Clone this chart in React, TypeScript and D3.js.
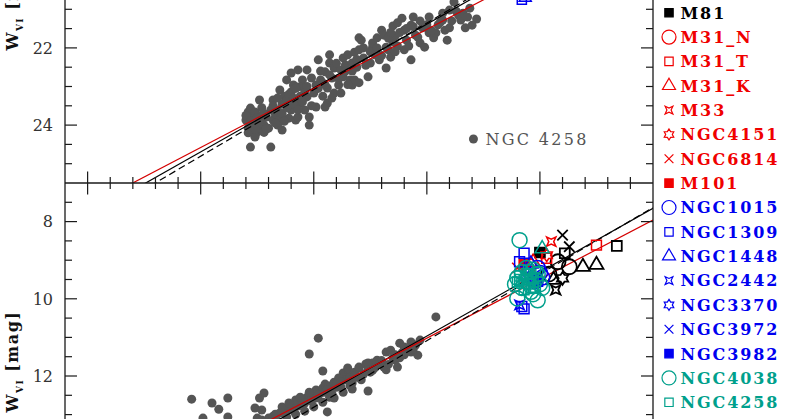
import React from "react";
import * as d3 from "d3";

const WIDTH = 800;
const HEIGHT = 419;

// ---------- axes ----------
const xDomain: [number, number] = [-0.1, 2.5]; // log P
const topDomain: [number, number] = [16, 25.5]; // W_VI NGC 4258
const bottomDomain: [number, number] = [7, 16.25]; // W_VI calibrators
const yTickLabelsTop = [18, 20, 22, 24];
const yTickLabelsBottom = [8, 10, 12, 14, 16];

// ---------- PL fits: W = a + b logP ----------
const fitNames = ["solid", "red", "dashed"];
const fitSlopes = [-3.31, -3.06, -3.45];
const fitTopIntercepts = [26.35, 26.11, 26.53];
const fitBottomIntercepts = [15.93, 15.61, 16.26];

// ---------- NGC 4258 Cepheids (top panel) [logP, W] ----------
const ngc4258Cepheids: [number, number][] = [
  [0.71, 23.66], [0.71, 23.82], [0.73, 23.71], [0.72, 23.97], [0.74, 23.87], [0.71, 24.08],
  [0.73, 24.13], [0.75, 24.02], [0.76, 23.76], [0.77, 23.92], [0.75, 24.18], [0.72, 23.56],
  [0.70, 23.87], [0.74, 23.66], [0.74, 24.28], [0.76, 24.08], [0.72, 24.57], [0.81, 24.57],
  [0.76, 23.35], [0.78, 24.19], [0.74, 24.31], [0.80, 24.08],
  [0.79, 23.79], [0.81, 23.61], [0.82, 23.35], [0.82, 23.87], [0.83, 23.71], [0.84, 23.61],
  [0.85, 23.09], [0.85, 23.87], [0.86, 24.13], [0.86, 23.45], [0.87, 23.25], [0.88, 22.83],
  [0.88, 23.35], [0.90, 22.65], [0.90, 23.61], [0.90, 23.14], [0.91, 22.96], [0.92, 23.87],
  [0.93, 23.01], [0.93, 23.79], [0.93, 22.57], [0.94, 23.43], [0.94, 23.25], [0.95, 22.83],
  [0.95, 23.01], [0.96, 23.61], [0.78, 24.0], [0.84, 24.0], [0.89, 23.82], [0.91, 23.45],
  [0.97, 23.27], [0.97, 22.57], [0.98, 23.79], [0.98, 24.0], [0.99, 22.78], [1.0, 23.17],
  [1.01, 22.96], [1.01, 23.53], [1.02, 22.31], [1.03, 22.83], [1.04, 23.25], [1.04, 22.91],
  [1.05, 22.62], [1.06, 23.43], [1.06, 23.04], [1.07, 22.18], [1.07, 22.39], [1.08, 22.78],
  [1.09, 23.17], [1.09, 22.52], [1.11, 22.96], [1.12, 22.57], [1.12, 23.17], [1.13, 22.26],
  [1.13, 22.75], [1.14, 22.44], [1.15, 22.18], [1.16, 22.83], [1.05, 23.53],
  [1.17, 22.96], [1.17, 22.39], [1.18, 22.11], [1.18, 22.83], [1.19, 22.5], [1.2, 21.74],
  [1.2, 22.05], [1.21, 21.8], [1.22, 22.26], [1.24, 22.75], [1.25, 22.39], [1.26, 21.98],
  [1.26, 21.87], [1.27, 22.18], [1.28, 21.74], [1.29, 22.31], [1.3, 21.54], [1.31, 21.67],
  [1.32, 21.98], [1.32, 22.52], [1.33, 22.05], [1.34, 22.24], [1.35, 21.43], [1.35, 21.85],
  [1.36, 21.69], [1.37, 21.35], [1.37, 21.95],
  [1.39, 21.23], [1.4, 21.54], [1.4, 22.05], [1.41, 21.8], [1.43, 21.41], [1.43, 22.31],
  [1.44, 21.2], [1.45, 21.67], [1.46, 21.72], [1.47, 21.87], [1.48, 21.48], [1.49, 21.98],
  [1.51, 21.61], [1.51, 21.2], [1.53, 21.74], [1.54, 21.61], [1.56, 21.33], [1.57, 21.28],
  [1.58, 21.54], [1.59, 21.8], [1.6, 21.02], [1.6, 21.48], [1.62, 20.81], [1.64, 21.15],
  [1.65, 21.28], [1.66, 21.1], [1.67, 21.48], [1.69, 20.97], [1.72, 21.25], [1.7, 21.41],
  [1.7, 20.6], [1.75, 20.5], [1.66, 20.65],
  [0.70, 23.75], [0.72, 23.9], [0.73, 24.0], [0.75, 23.8], [0.76, 23.95], [0.78, 23.7],
  [0.77, 23.55], [0.79, 24.1], [0.71, 24.2], [0.74, 24.1],
  [0.82, 23.5], [0.84, 23.3], [0.86, 23.7], [0.88, 23.55], [0.89, 23.2], [0.91, 23.3],
  [0.92, 23.05], [0.93, 23.6], [0.95, 23.4], [0.96, 23.15], [0.97, 23.0], [0.99, 23.5],
  [0.83, 23.95], [0.87, 23.9],
  [1.02, 23.05], [1.03, 22.6], [1.05, 22.95], [1.07, 22.7], [1.08, 23.3], [1.1, 22.4],
  [1.11, 22.8], [1.14, 22.6], [1.15, 22.95], [1.17, 22.6], [1.19, 22.3], [1.2, 22.9],
  [1.22, 22.0], [1.23, 22.45], [1.25, 22.1], [1.28, 22.0], [1.3, 22.2], [1.33, 21.75],
  [1.34, 21.6], [1.36, 22.1], [1.38, 21.6], [1.41, 21.5], [1.42, 21.95], [1.44, 21.45],
  [1.47, 21.3], [1.5, 21.4], [1.52, 21.55], [1.55, 21.4], [1.57, 21.1], [1.61, 21.3],
  [1.63, 21.05], [1.68, 21.2],
];

// ---------- calibrating Cepheids (bottom panel) [logP, W] ----------
const calibCepheids: [number, number][] = [
  [0.46, 12.6], [0.55, 12.7], [0.58, 12.86], [0.62, 12.57], [0.51, 13.09], [0.62, 13.06],
  [0.78, 12.44], [0.76, 12.57], [0.74, 12.83], [0.77, 12.88], [0.75, 13.09], [0.98, 11.43],
  [1.02, 11.02], [1.04, 11.87], [1.06, 12.93], [1.24, 12.39], [1.54, 10.47],
  [0.8, 13.09], [0.82, 13.04], [0.83, 12.99], [0.85, 12.96], [0.87, 12.91], [0.89, 12.86],
  [0.9, 12.75], [0.9, 12.83], [0.92, 12.7], [0.93, 12.78], [0.94, 12.65], [0.95, 12.73],
  [0.97, 12.55], [0.98, 12.62], [0.99, 12.49], [1.01, 12.57], [1.01, 12.36], [1.03, 12.44],
  [1.04, 12.31], [1.05, 12.42], [1.07, 12.26], [1.07, 12.55], [1.09, 12.16], [1.1, 12.29],
  [1.11, 12.1], [1.12, 12.29], [1.13, 11.92], [1.14, 12.1], [1.15, 11.84], [1.15, 11.79],
  [1.16, 12.03], [1.17, 12.18], [1.18, 11.9], [1.2, 11.79], [1.2, 11.77], [1.21, 12.1],
  [1.23, 11.69], [1.24, 11.66], [1.25, 11.9], [1.26, 11.66], [1.27, 11.79], [1.28, 11.59],
  [1.29, 11.69], [1.31, 11.77], [1.32, 11.84], [1.32, 11.38], [1.34, 11.33], [1.35, 11.53],
  [1.36, 11.59], [1.37, 11.77], [1.38, 11.15], [1.38, 11.53], [1.39, 11.4], [1.4, 11.25],
  [1.42, 11.33], [1.43, 11.38], [1.43, 11.12], [1.45, 11.2], [1.46, 11.46], [1.47, 11.07],
  [0.77, 13.14], [0.81, 13.19], [0.84, 13.17], [0.88, 13.06], [0.92, 12.99], [0.96, 12.91],
  [1.0, 12.8], [1.04, 12.68], [1.09, 12.57], [1.13, 12.42], [1.17, 12.34],
  [0.86, 12.8], [0.92, 12.62], [0.98, 12.42], [1.05, 12.21], [1.11, 12.05], [1.19, 12.03],
  [1.24, 11.84], [0.72, 13.27], [0.67, 13.4],
  [0.83, 13.1], [0.86, 12.95], [0.89, 12.7], [0.91, 12.9], [0.94, 12.55], [0.96, 12.7],
  [0.99, 12.65], [1.02, 12.5], [1.06, 12.35], [1.08, 12.45], [1.1, 12.2], [1.12, 12.15],
  [1.16, 12.25], [1.18, 12.0], [1.22, 11.95], [1.26, 11.85], [1.3, 11.6], [1.33, 11.7],
  [1.36, 11.45], [1.4, 11.45], [1.44, 11.3],
];

// ---------- ultra-long-period Cepheids, one array per host ----------
const ulpLMC: [number, number][] = [[2.08, 9.04], [2.13, 9.17], [2.04, 9.36]];
const ulpSMC: [number, number][] = [[2.11, 8.82], [2.34, 8.63]];
const ulpNGC55: [number, number][] = [[2.19, 9.17], [2.25, 9.12], [2.06, 9.51]];
const ulpNGC300: [number, number][] = [[2.07, 9.77]];
const ulpNGC6822: [number, number][] = [[2.1, 9.47]];
const ulpIC1613: [number, number][] = [[2.1, 8.35], [2.13, 8.65]];
const ulpM81: [number, number][] = [[2.0, 8.8]];
const ulpM31N: [number, number][] = [[1.95, 9.15]];
const ulpM31T: [number, number][] = [[2.25, 8.61], [2.03, 8.95]];
const ulpM31K: [number, number][] = [[1.97, 9.05]];
const ulpM33: [number, number][] = [[2.05, 8.52]];
const ulpNGC4151: [number, number][] = [[2.03, 8.87]];
const ulpNGC6814: [number, number][] = [[1.9, 9.2]];
const ulpM101: [number, number][] = [[1.93, 9.1]];
const ulpNGC1015: [number, number][] = [[1.99, 9.2], [2.0, 9.33], [2.01, 9.45], [1.98, 9.55]];
const ulpNGC1309: [number, number][] = [[1.93, 8.82], [1.91, 9.04], [1.92, 10.2], [1.93, 10.26]];
const ulpNGC1448: [number, number][] = [[1.96, 9.1]];
const ulpNGC2442: [number, number][] = [[1.91, 10.16]];
const ulpNGC3370: [number, number][] = [[1.95, 9.45]];
const ulpNGC3972: [number, number][] = [[1.97, 9.62]];
const ulpNGC3982: [number, number][] = [[1.99, 9.55]];
const ulpNGC4038: [number, number][] = [
  [1.91, 8.48], [1.9, 9.99], [1.99, 10.04], [2.01, 9.72],
  [1.9, 9.46], [1.92, 9.31], [1.94, 9.56], [1.95, 9.41], [1.96, 9.67], [1.97, 9.25],
  [1.98, 9.51], [1.99, 9.36], [1.96, 9.82], [1.92, 9.72], [1.89, 9.62], [2.0, 9.62],
  [1.94, 9.2], [1.97, 9.88],
];
const ulpNGC4258: [number, number][] = [
  [1.91, 9.41], [1.93, 9.51], [1.95, 9.62], [1.97, 9.46], [1.99, 9.31], [1.93, 9.77],
  [1.96, 9.36], [1.98, 9.72], [1.9, 9.56], [1.95, 9.25], [1.92, 9.6], [1.94, 9.35],
  [1.96, 9.5], [1.91, 9.5], [1.97, 9.7],
];
const ulpNGC4536: [number, number][] = [[2.01, 8.7]];
// ULPs seen at the top edge of the upper panel
const ulpTopNGC1309: [number, number][] = [[1.92, 20.75]];
const ulpTopNGC1448: [number, number][] = [[1.935, 20.7]];

const BLACK = "#000000";
const RED = "#f00000";
const BLUE = "#0000f0";
const TEAL = "#00a08c";

type Shape = "circle" | "square" | "triangle" | "star4" | "star6" | "cross";
interface Series {
  name: string;
  color: string;
  shape: Shape;
  filled: boolean;
  points: [number, number][];
}

const legendSeries: Series[] = [
  { name: "LMC", color: BLACK, shape: "circle", filled: false, points: ulpLMC },
  { name: "SMC", color: BLACK, shape: "square", filled: false, points: ulpSMC },
  { name: "NGC55", color: BLACK, shape: "triangle", filled: false, points: ulpNGC55 },
  { name: "NGC300", color: BLACK, shape: "star4", filled: false, points: ulpNGC300 },
  { name: "NGC6822", color: BLACK, shape: "star6", filled: false, points: ulpNGC6822 },
  { name: "IC1613", color: BLACK, shape: "cross", filled: false, points: ulpIC1613 },
  { name: "M81", color: BLACK, shape: "square", filled: true, points: ulpM81 },
  { name: "M31_N", color: RED, shape: "circle", filled: false, points: ulpM31N },
  { name: "M31_T", color: RED, shape: "square", filled: false, points: ulpM31T },
  { name: "M31_K", color: RED, shape: "triangle", filled: false, points: ulpM31K },
  { name: "M33", color: RED, shape: "star4", filled: false, points: ulpM33 },
  { name: "NGC4151", color: RED, shape: "star6", filled: false, points: ulpNGC4151 },
  { name: "NGC6814", color: RED, shape: "cross", filled: false, points: ulpNGC6814 },
  { name: "M101", color: RED, shape: "square", filled: true, points: ulpM101 },
  { name: "NGC1015", color: BLUE, shape: "circle", filled: false, points: ulpNGC1015 },
  { name: "NGC1309", color: BLUE, shape: "square", filled: false, points: ulpNGC1309 },
  { name: "NGC1448", color: BLUE, shape: "triangle", filled: false, points: ulpNGC1448 },
  { name: "NGC2442", color: BLUE, shape: "star4", filled: false, points: ulpNGC2442 },
  { name: "NGC3370", color: BLUE, shape: "star6", filled: false, points: ulpNGC3370 },
  { name: "NGC3972", color: BLUE, shape: "cross", filled: false, points: ulpNGC3972 },
  { name: "NGC3982", color: BLUE, shape: "square", filled: true, points: ulpNGC3982 },
  { name: "NGC4038", color: TEAL, shape: "circle", filled: false, points: ulpNGC4038 },
  { name: "NGC4258", color: TEAL, shape: "square", filled: false, points: ulpNGC4258 },
  { name: "NGC4536", color: TEAL, shape: "triangle", filled: false, points: ulpNGC4536 },
];

const topSeries: Series[] = [
  { name: "NGC1309", color: BLUE, shape: "square", filled: false, points: ulpTopNGC1309 },
  { name: "NGC1448", color: BLUE, shape: "triangle", filled: false, points: ulpTopNGC1448 },
];

// ---------- layout ----------
const LEFT = 65;
const RIGHT = 653;
const MID = 183;
const PX_PER_MAG = 38.6;
const TOP0 = MID - (topDomain[1] - topDomain[0]) * PX_PER_MAG;
const BOT1 = MID + (bottomDomain[1] - bottomDomain[0]) * PX_PER_MAG;

const FONT = "'DejaVu Serif', serif";

function symPath(shape: Shape, s: number): string {
  switch (shape) {
    case "circle": {
      const r = s / 2;
      return `M${r},0A${r},${r} 0 1,1 ${-r},0A${r},${r} 0 1,1 ${r},0Z`;
    }
    case "square": {
      const h = s * 0.38;
      return `M${-h},${-h}H${h}V${h}H${-h}Z`;
    }
    case "triangle": {
      const a = s / 2;
      const ht = s * 0.866;
      return `M0,${(-ht * 2) / 3}L${a},${ht / 3}L${-a},${ht / 3}Z`;
    }
    case "star4": {
      const R = s * 0.5;
      const r = R * 0.38;
      const pts: string[] = [];
      for (let i = 0; i < 8; i++) {
        const ang = (Math.PI / 4) * i - Math.PI / 4;
        const rad = i % 2 === 0 ? R : r;
        pts.push(`${(Math.cos(ang) * rad).toFixed(2)},${(Math.sin(ang) * rad).toFixed(2)}`);
      }
      return "M" + pts.join("L") + "Z";
    }
    case "star6": {
      const R = s * 0.5;
      const r = R * 0.6;
      const pts: string[] = [];
      for (let i = 0; i < 12; i++) {
        const ang = (Math.PI / 6) * i - Math.PI / 2;
        const rad = i % 2 === 0 ? R : r;
        pts.push(`${(Math.cos(ang) * rad).toFixed(2)},${(Math.sin(ang) * rad).toFixed(2)}`);
      }
      return "M" + pts.join("L") + "Z";
    }
    case "cross": {
      const d = s * 0.4;
      return `M${-d},${-d}L${d},${d}M${-d},${d}L${d},${-d}`;
    }
  }
}

function Marker({ s, x, y, size, sw }: { s: Series; x: number; y: number; size: number; sw: number }) {
  return (
    <path
      d={symPath(s.shape, size)}
      transform={`translate(${x},${y})`}
      fill={s.filled ? s.color : "none"}
      stroke={s.color}
      strokeWidth={sw}
      strokeLinejoin="miter"
    />
  );
}

export default function App() {
  const x = d3.scaleLinear().domain(xDomain).range([LEFT, RIGHT]);
  const yTop = d3.scaleLinear().domain(topDomain).range([TOP0, MID]);
  const yBot = d3.scaleLinear().domain(bottomDomain).range([MID, BOT1]);

  const xMinor = d3.range(0, 25).map((i) => Math.round((xDomain[0] + 0.1 * (i + 1)) * 10) / 10);
  const xMajor = xMinor.filter((v) => Math.abs(v * 2 - Math.round(v * 2)) < 1e-6);

  const topMinor = d3.range(topDomain[0] + 0.5, topDomain[1], 0.5);
  const botMinor = d3.range(bottomDomain[0] + 0.5, bottomDomain[1], 0.5);
  const isMajor = (v: number) => Math.abs(v / 2 - Math.round(v / 2)) < 1e-6;

  const fitLine = (yScale: d3.ScaleLinear<number, number>, a: number, b: number) =>
    d3.line<number>()
      .x((v) => x(v))
      .y((v) => yScale(a + b * v))(xDomain as number[]) || "";

  const lineStyle = (i: number) => {
    const n = fitNames[i];
    if (n === "red") return { stroke: "#d40000", dash: undefined as string | undefined };
    if (n === "dashed") return { stroke: "#000", dash: "7,4" };
    return { stroke: "#000", dash: undefined as string | undefined };
  };

  const axisColor = "#1a1a1a";
  const legendStartY = 12.7;
  const legendStep = 24.35;
  const m81Index = legendSeries.findIndex((s) => s.name === "M81");

  const inView = (yy: number) => yy > 8 && yy < HEIGHT - 8;

  const yTicks = (
    yScale: d3.ScaleLinear<number, number>,
    minors: number[],
    key: string
  ) =>
    minors.map((v) => {
      const L = isMajor(v) ? 12 : 7;
      const yy = yScale(v);
      return (
        <g key={key + v}>
          <line x1={LEFT} x2={LEFT + L} y1={yy} y2={yy} stroke={axisColor} strokeWidth={1.2} />
          <line x1={RIGHT - L} x2={RIGHT} y1={yy} y2={yy} stroke={axisColor} strokeWidth={1.2} />
        </g>
      );
    });

  const label4258 = { logP: 1.706, W: 24.36 };

  return (
    <div style={{ position: "absolute", left: 0, top: 0, width: WIDTH, height: HEIGHT, background: "#fff" }}>
      <svg width={WIDTH} height={HEIGHT} viewBox={`0 0 ${WIDTH} ${HEIGHT}`} style={{ display: "block" }}>
        <defs>
          <clipPath id="clipTop">
            <rect x={LEFT} y={TOP0} width={RIGHT - LEFT} height={MID - TOP0} />
          </clipPath>
          <clipPath id="clipBot">
            <rect x={LEFT} y={MID} width={RIGHT - LEFT} height={BOT1 - MID} />
          </clipPath>
        </defs>
        <rect width={WIDTH} height={HEIGHT} fill="#fff" />

        {/* top panel */}
        <g clipPath="url(#clipTop)">
          {ngc4258Cepheids.map((p, i) => (
            <circle key={"t" + i} cx={x(p[0])} cy={yTop(p[1])} r={4.5} fill="#555" />
          ))}
          {fitSlopes.map((b, i) => {
            const st = lineStyle(i);
            return (
              <path key={"ft" + i} d={fitLine(yTop, fitTopIntercepts[i], b)} fill="none"
                stroke={st.stroke} strokeWidth={1.2} strokeDasharray={st.dash} />
            );
          })}
          {topSeries.map((s) =>
            s.points.map((p, j) => (
              <Marker key={"ts" + s.name + j} s={s} x={x(p[0])} y={yTop(p[1])} size={12} sw={1.5} />
            ))
          )}
        </g>
        <circle cx={x(label4258.logP)} cy={yTop(label4258.W)} r={4.5} fill="#555" />
        <text x={x(label4258.logP) + 12} y={yTop(label4258.W) + 6} fontFamily={FONT} fontSize={16}
          letterSpacing={2.3} fill="#555">NGC 4258</text>

        {/* bottom panel */}
        <g clipPath="url(#clipBot)">
          {calibCepheids.map((p, i) => (
            <circle key={"b" + i} cx={x(p[0])} cy={yBot(p[1])} r={4.5} fill="#555" />
          ))}
          {fitSlopes.map((b, i) => {
            const st = lineStyle(i);
            return (
              <path key={"fb" + i} d={fitLine(yBot, fitBottomIntercepts[i], b)} fill="none"
                stroke={st.stroke} strokeWidth={1.2} strokeDasharray={st.dash} />
            );
          })}
          {legendSeries.map((s) =>
            s.points.map((p, j) => (
              <Marker key={"bs" + s.name + j} s={s} x={x(p[0])} y={yBot(p[1])}
                size={s.shape === "circle" ? 15 : s.shape === "triangle" ? 14 : 13}
                sw={s.color === BLACK ? 1.8 : 1.5} />
            ))
          )}
        </g>

        {/* axes frame */}
        <rect x={LEFT} y={TOP0} width={RIGHT - LEFT} height={BOT1 - TOP0} fill="none" stroke={axisColor} strokeWidth={1.3} />
        <line x1={LEFT} x2={RIGHT} y1={MID} y2={MID} stroke={axisColor} strokeWidth={1.3} />
        {xMinor.map((v) => {
          const major = xMajor.includes(v);
          const L = major ? 11.5 : 6;
          const xx = x(v);
          return (
            <g key={"xt" + v}>
              <line x1={xx} x2={xx} y1={MID - L} y2={MID + L} stroke={axisColor} strokeWidth={1.2} />
            </g>
          );
        })}
        {yTicks(yTop, topMinor, "yt")}
        {yTicks(yBot, botMinor, "yb")}

        {yTickLabelsTop.filter((v) => inView(yTop(v))).map((v) => (
          <text key={"ylt" + v} x={53} y={yTop(v)} dy="0.36em" textAnchor="end" fontFamily={FONT}
            fontSize={16} fill="#333">{v}</text>
        ))}
        {yTickLabelsBottom.filter((v) => inView(yBot(v))).map((v) => (
          <text key={"ylb" + v} x={53} y={yBot(v)} dy="0.36em" textAnchor="end" fontFamily={FONT}
            fontSize={16} fill="#333">{v}</text>
        ))}

        {/* y titles */}
        {[(TOP0 + MID) / 2, (MID + BOT1) / 2].map((cy, i) => (
          <text key={"yttl" + i} transform={`translate(18,${cy}) rotate(-90)`} textAnchor="middle"
            fontFamily={FONT} fontWeight="bold" fontSize={16} letterSpacing={1.5} fill="#111">
            W<tspan fontSize={9} dy={5}>VI</tspan>
            <tspan dy={-5}> [mag]</tspan>
          </text>
        ))}

        {/* legend */}
        {legendSeries.map((s, i) => {
          const ly = legendStartY + (i - m81Index) * legendStep;
          if (ly < -6 || ly > HEIGHT + 6) return null;
          return (
            <g key={"lg" + s.name}>
              <Marker s={s} x={669} y={ly} size={s.shape === "circle" ? 14 : s.shape === "triangle" ? 13 : 11} sw={1.2} />
              <text x={680.5} y={ly} dy="0.37em" fontFamily={FONT} fontWeight="bold" fontSize={16}
                letterSpacing={1.9} fill={s.color}>{s.name}</text>
            </g>
          );
        })}
      </svg>
    </div>
  );
}
